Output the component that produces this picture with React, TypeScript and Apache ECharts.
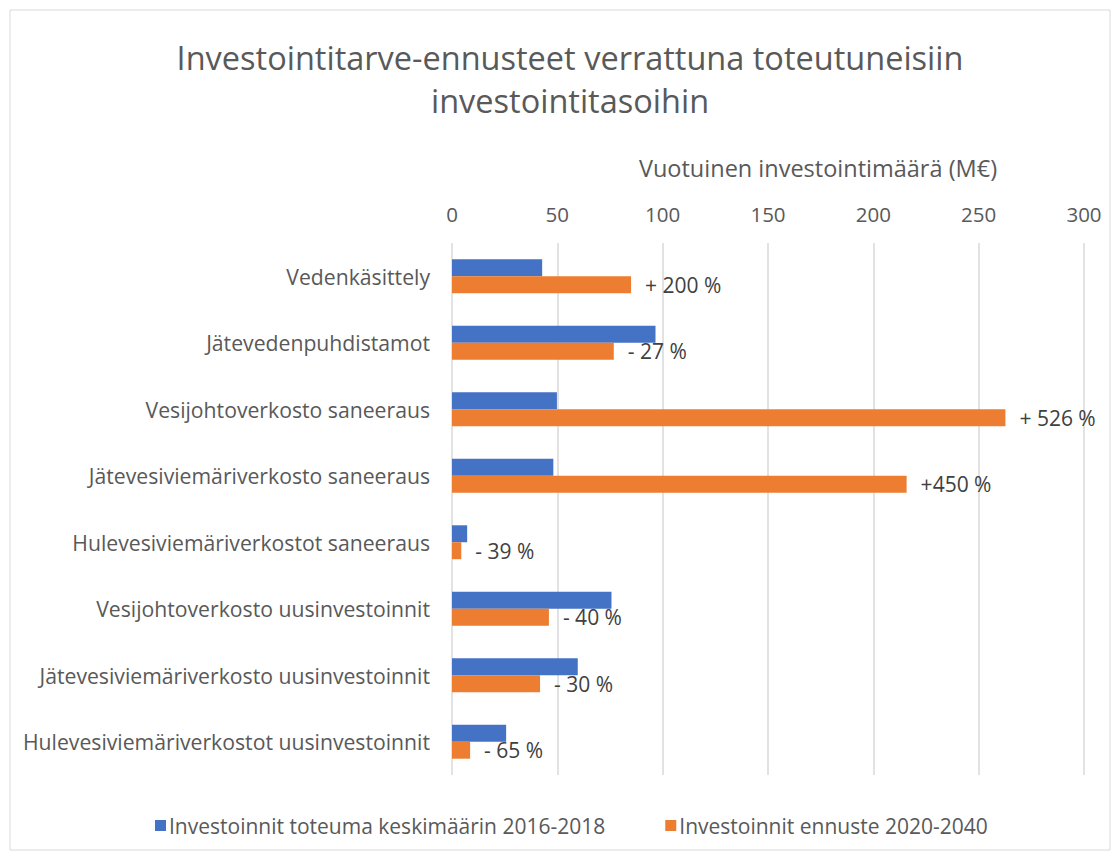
import React, { useEffect, useRef } from "react";
import * as echarts from "echarts";

const categories = [
  "Vedenkäsittely",
  "Jätevedenpuhdistamot",
  "Vesijohtoverkosto saneeraus",
  "Jätevesiviemäriverkosto saneeraus",
  "Hulevesiviemäriverkostot saneeraus",
  "Vesijohtoverkosto uusinvestoinnit",
  "Jätevesiviemäriverkosto uusinvestoinnit",
  "Hulevesiviemäriverkostot uusinvestoinnit",
];
const actual = [42.8, 96.6, 49.8, 48.1, 7.2, 75.7, 59.7, 25.7];
const forecast = [85.0, 76.8, 262.7, 215.8, 4.4, 46.0, 41.8, 8.6];
const changeLabels = ["+ 200 %", "- 27 %", "+ 526 %", "+450 %", "- 39 %", "- 40 %", "- 30 %", "- 65 %"];
const seriesNames = ["Investoinnit toteuma keskimäärin 2016-2018", "Investoinnit ennuste 2020-2040"];
const titleText = "Investointitarve-ennusteet verrattuna toteutuneisiin\ninvestointitasoihin";
const axisTitle = "Vuotuinen investointimäärä (M€)";

const FONT = "'Open Sans', Lato, sans-serif";

export default function App() {
  const ref = useRef<HTMLDivElement>(null);
  useEffect(() => {
    document.body.style.margin = "0";
    const chart = echarts.init(ref.current!, null, { renderer: "svg" });
    chart.setOption({
      animation: false,
      backgroundColor: "#ffffff",
      textStyle: { fontFamily: FONT },
      graphic: [
        {
          type: "rect",
          shape: { x: 10, y: 10, width: 1100, height: 840 },
          style: { fill: "none", stroke: "#d9d9d9", lineWidth: 1 },
          silent: true,
        },
        {
          type: "text",
          x: 570,
          y: 79,
          style: {
            text: titleText,
            fontFamily: FONT,
            fontSize: 32.5,
            fill: "#595959",
            align: "center",
            verticalAlign: "middle",
            lineHeight: 43,
          },
        },
        {
          type: "text",
          x: 818,
          y: 168,
          style: {
            text: axisTitle,
            fontFamily: FONT,
            fontSize: 23.5,
            fill: "#595959",
            align: "center",
            verticalAlign: "middle",
          },
        },
      ],
      legend: {
        bottom: 16,
        left: 150,
        icon: "rect",
        itemWidth: 11,
        itemHeight: 11,
        itemGap: 60,
        itemStyle: { borderWidth: 0 },
        textStyle: { fontFamily: FONT, fontSize: 21, color: "#595959", padding: [0, 0, 0, -2] },
        data: seriesNames,
      },
      grid: { left: 452, right: 34, top: 243, bottom: 82 },
      xAxis: {
        type: "value",
        position: "top",
        min: 0,
        max: 300,
        interval: 50,
        axisLine: { show: false },
        axisTick: { show: false },
        axisLabel: { fontFamily: FONT, fontSize: 20.5, color: "#595959", margin: 19 },
        splitLine: { show: true, lineStyle: { color: "#d9d9d9", width: 1.5 } },
      },
      yAxis: {
        type: "category",
        inverse: true,
        data: categories,
        axisLine: { show: false },
        axisTick: { show: false },
        axisLabel: { fontFamily: FONT, fontSize: 21.2, color: "#595959", margin: 22 },
      },
      series: [
        {
          name: seriesNames[0],
          type: "bar",
          data: actual,
          itemStyle: { color: "#4472C4" },
          barGap: "0%",
          barCategoryGap: "49%",
        },
        {
          name: seriesNames[1],
          type: "bar",
          data: forecast,
          itemStyle: { color: "#ED7D31" },
          barGap: "0%",
          barCategoryGap: "49%",
          label: {
            show: true,
            position: "right",
            distance: 14,
            fontFamily: FONT,
            fontSize: 21,
            color: "#404040",
            formatter: (p: any) => changeLabels[p.dataIndex],
          },
        },
      ],
    });
    return () => chart.dispose();
  }, []);
  return <div ref={ref} style={{ width: 1118, height: 857 }} />;
}
